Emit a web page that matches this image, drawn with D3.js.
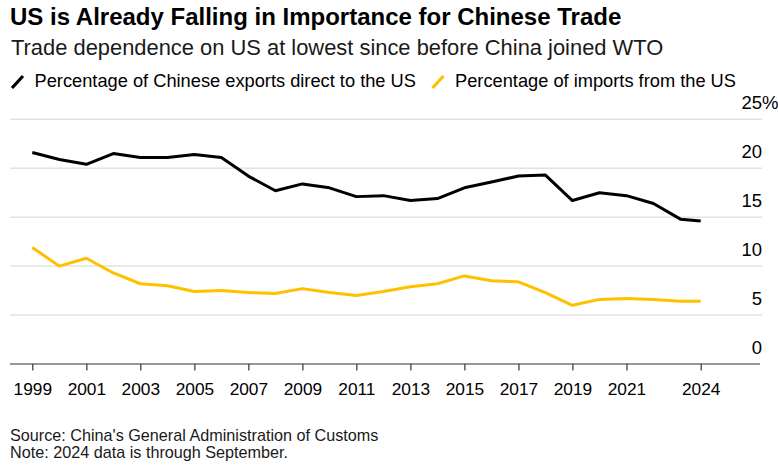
<!DOCTYPE html>
<html>
<head>
<meta charset="utf-8">
<script src="https://cdn.jsdelivr.net/npm/d3@7"></script>
<style>
  html, body { margin: 0; padding: 0; background: #fff; }
  svg { display: block; font-family: "Liberation Sans", Arial, Helvetica, sans-serif; }
</style>
</head>
<body>
<svg id="chart" width="778" height="468"></svg>
<script>
// Annual shares of China's trade with the US (percent).
const years = [1999, 2000, 2001, 2002, 2003, 2004, 2005, 2006, 2007, 2008, 2009, 2010, 2011,
               2012, 2013, 2014, 2015, 2016, 2017, 2018, 2019, 2020, 2021, 2022, 2023, 2024];
const exportsToUS = [21.6, 20.9, 20.4, 21.5, 21.1, 21.1, 21.4, 21.1, 19.2, 17.7, 18.4, 18.0, 17.1,
                     17.2, 16.7, 16.9, 18.0, 18.6, 19.2, 19.3, 16.7, 17.5, 17.2, 16.4, 14.8, 14.6];
const importsFromUS = [11.9, 10.0, 10.8, 9.3, 8.2, 8.0, 7.4, 7.5, 7.3, 7.2, 7.7, 7.3, 7.0,
                       7.4, 7.9, 8.2, 9.0, 8.5, 8.4, 7.3, 6.0, 6.6, 6.7, 6.6, 6.4, 6.4];
// Last period only covers January to September.
const lastPeriodEndMonth = 9;
const tickYears = [1999, 2001, 2003, 2005, 2007, 2009, 2011, 2013, 2015, 2017, 2019, 2021, 2024];
const yTicks = [0, 5, 10, 15, 20, 25];
const seriesNames = ["Percentage of Chinese exports direct to the US", "Percentage of imports from the US"];
const seriesColors = ["#000000", "#ffc000"];

// Each value is plotted at the end of the period it covers.
const periodEnd = (yr, i) => i === years.length - 1
  ? new Date(yr, lastPeriodEndMonth, 1)
  : new Date(yr + 1, 0, 1);
const dates = years.map(periodEnd);

const svg = d3.select("#chart");

const left = 10, right = 762, axisRight = 760;
const x = d3.scaleTime()
  .domain([dates[0], dates[dates.length - 1]])
  .range([32.3, 700.7]);
const y = d3.scaleLinear().domain([0, 25]).range([364, 119.3]);

// Titles
svg.append("text").attr("x", 10).attr("y", 25)
  .attr("font-size", 24).attr("font-weight", "bold").attr("fill", "#000")
  .text("US is Already Falling in Importance for Chinese Trade");
svg.append("text").attr("x", 11).attr("y", 55)
  .attr("font-size", 21.9).attr("fill", "#1a1a1a")
  .text("Trade dependence on US at lowest since before China joined WTO");

// Legend
const legendX = [11.5, 432];
seriesNames.forEach((name, i) => {
  const g = svg.append("g").attr("transform", `translate(${legendX[i]},0)`);
  g.append("line").attr("x1", 0.5).attr("y1", 88).attr("x2", 11.5).attr("y2", 76)
    .attr("stroke", seriesColors[i]).attr("stroke-width", 3.2).attr("stroke-linecap", "butt");
  g.append("text").attr("x", 23).attr("y", 87)
    .attr("font-size", 18.25).attr("fill", "#000").text(name);
});

// Gridlines
svg.append("g").selectAll("line").data(yTicks.filter(d => d > 0)).join("line")
  .attr("x1", left).attr("x2", right)
  .attr("y1", d => y(d)).attr("y2", d => y(d))
  .attr("stroke", "#e2e2e2").attr("stroke-width", 1.5);

// Y labels above gridlines, right side
const yLab = svg.append("g").attr("font-size", 18.5).attr("fill", "#000");
yLab.selectAll("text").data(yTicks).join("text")
  .attr("x", right).attr("y", d => y(d) - 10.5)
  .attr("text-anchor", "end").text(d => d);
yLab.append("text").attr("x", right).attr("y", y(25) - 10.5).text("%");

// X axis
const xAxis = d3.axisBottom(x)
  .tickValues(tickYears.map(t => dates[years.indexOf(t)]))
  .tickFormat((d, i) => tickYears[i])
  .tickSize(6.5).tickSizeOuter(0).tickPadding(12);
const gx = svg.append("g").attr("transform", `translate(0,${y(0)})`).call(xAxis);
gx.select(".domain").remove();
gx.append("line").attr("x1", left).attr("x2", axisRight).attr("y1", 0).attr("y2", 0)
  .attr("stroke", "#333").attr("stroke-width", 1.2);
gx.selectAll(".tick line").attr("stroke", "#333").attr("stroke-width", 1.2);
gx.selectAll(".tick text").attr("font-size", 17.3).attr("fill", "#000")
  .attr("font-family", "\"Liberation Sans\", Arial, sans-serif");

// Lines
const line = d3.line().x((d, i) => x(dates[i])).y(d => y(d));
[exportsToUS, importsFromUS].forEach((vals, i) => {
  svg.append("path").datum(vals).attr("d", line)
    .attr("fill", "none").attr("stroke", seriesColors[i])
    .attr("stroke-width", 3).attr("stroke-linejoin", "round");
});

// Footer
const foot = svg.append("g").attr("font-size", 16.2).attr("fill", "#1a1a1a");
foot.append("text").attr("x", 10).attr("y", 440.5).text("Source: China's General Administration of Customs");
foot.append("text").attr("x", 10).attr("y", 457.5).text("Note: 2024 data is through September.");
</script>
</body>
</html>
